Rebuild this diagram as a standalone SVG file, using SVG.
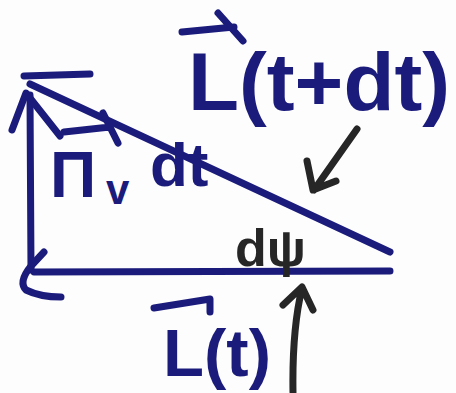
<svg xmlns="http://www.w3.org/2000/svg" width="456" height="393" viewBox="0 0 456 393">
<style>
.b{fill:none;stroke:#1b1b7c;stroke-width:7;stroke-linecap:round;stroke-linejoin:round}
.k{fill:none;stroke:#262626;stroke-width:7;stroke-linecap:round;stroke-linejoin:round}
.tb{fill:#1b1b7c;font-family:"Liberation Sans",Arial,sans-serif}
.tk{fill:#262626;font-family:"Liberation Sans",Arial,sans-serif}
</style>
<rect width="456" height="393" fill="#fdfdfd"/>
<g id="triangle">
<path class="b" d="M31,270 L30,95"/>
<path class="b" d="M12,130 L26,93 L60,136"/>
<path class="b" d="M390,252 L30,84"/>
<path class="b" d="M24,76 L90,74"/>
<path class="b" d="M34,272 L390,271"/>
<path class="b" d="M44,252 L31,266 Q18,282 26,290 Q40,297 61,297"/>
</g>
<g id="label-L-t-dt">
<path class="b" d="M182,32 L234,27 M218,13 L243,41"/>
<text class="tb" x="188" y="110" font-size="82" font-weight="bold" textLength="262" lengthAdjust="spacingAndGlyphs">L(t+dt)</text>
</g>
<g id="label-gamma">
<path class="b" d="M64,132 L110,127 M103,113 L118,143"/>
<text class="tb" x="50" y="197" font-size="64" font-weight="bold">Π</text>
<text class="tb" x="106" y="204" font-size="42" font-weight="bold">v</text>
<text class="tb" x="150" y="186" font-size="62" font-weight="bold">dt</text>
</g>
<g id="label-dpsi">
<text class="tk" x="235" y="266" font-size="52" font-weight="bold">dψ</text>
</g>
<g id="label-L-t">
<path class="b" d="M154,308 L210,299 L210,312"/>
<text class="tb" x="163" y="376" font-size="66" font-weight="bold" textLength="108" lengthAdjust="spacingAndGlyphs">L(t)</text>
</g>
<g id="connectors">
<path class="k" d="M357,129 L314,190 M307,161 L313,190 L336,181"/>
<path class="k" d="M293,392 Q292,330 302,288 M283,305 L302,287 L313,310"/>
</g>
</svg>
